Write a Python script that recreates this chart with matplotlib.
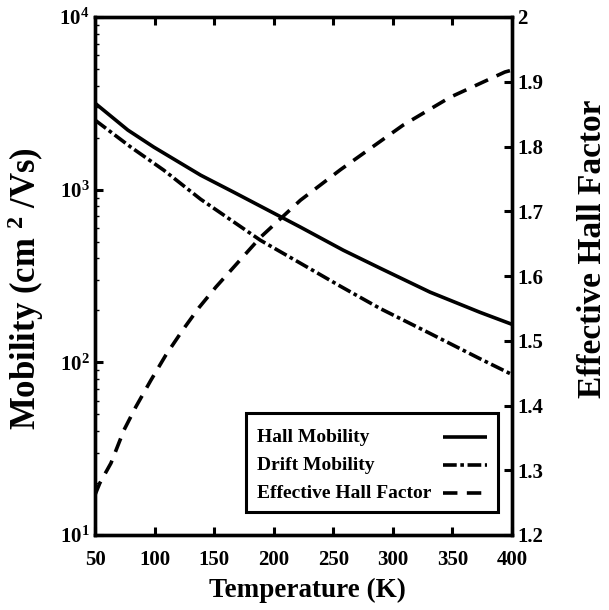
import matplotlib
matplotlib.use("Agg")
import matplotlib.pyplot as plt
from matplotlib.lines import Line2D
from matplotlib.patches import Rectangle
from matplotlib.ticker import FixedLocator, LogLocator, NullFormatter, NullLocator

plt.rcParams['font.family'] = ['Liberation Serif', 'DejaVu Serif']
plt.rcParams['font.weight'] = 'bold'
plt.rcParams['mathtext.fontset'] = 'custom'
plt.rcParams['mathtext.rm'] = 'Liberation Serif:bold'
plt.rcParams['mathtext.it'] = 'Liberation Serif:bold'
plt.rcParams['mathtext.bf'] = 'Liberation Serif:bold'

# Hall mobility (cm^2/Vs) vs temperature
hall_T = [50, 77.6, 99.4, 138.7, 166.3, 222.4, 258.4, 289.3, 331.2, 373, 400]
hall_mu = [3170, 2213, 1763, 1213, 968, 607, 446, 351, 255, 195, 166]

# Drift mobility (cm^2/Vs) vs temperature
drift_T = [50, 80.1, 107.7, 138.7, 188.9, 222.4, 255.9, 289.3, 331.2, 373, 400]
drift_mu = [2530, 1763, 1297, 880, 509, 375, 276, 205, 147, 105, 85]

# Effective Hall factor vs temperature
hf_T = [50, 54, 63.4, 74.3, 84.3, 96.9, 109.5, 123.8, 137.2, 151.5, 189,
        222.4, 255.9, 308.6, 348, 394, 400]
hf = [1.262, 1.280, 1.311, 1.362, 1.398, 1.439, 1.478, 1.517, 1.551, 1.583,
      1.660, 1.717, 1.764, 1.833, 1.876, 1.915, 1.918]

series_labels = ['Hall Mobility', 'Drift Mobility', 'Effective Hall Factor']

x_ticks = [50, 100, 150, 200, 250, 300, 350, 400]
y_left_ticks = [10, 100, 1000, 10000]
y_left_labels = [r'$10^{1}$', r'$10^{2}$', r'$10^{3}$', r'$10^{4}$']
y_right_ticks = [1.2, 1.3, 1.4, 1.5, 1.6, 1.7, 1.8, 1.9, 2.0]
y_right_labels = ['1.2', '1.3', '1.4', '1.5', '1.6', '1.7', '1.8', '1.9', '2']

W, H = 609, 610
fig = plt.figure(figsize=(W / 100, H / 100), dpi=100)
L, R, T, B = 95, 512, 17, 535
ax = fig.add_axes([L / W, 1 - B / H, (R - L) / W, (B - T) / H])
ax2 = ax.twinx()

lw = 2.6
styles = [
    dict(linestyle='-', solid_capstyle='butt'),
    dict(linestyle=(0, (3.8, 1.0, 1.0, 1.0)), dash_capstyle='butt'),
    dict(linestyle=(0, (4.0, 2.6)), dash_capstyle='butt'),
]
ax.plot(hall_T, hall_mu, color='black', lw=lw, **styles[0])
ax.plot(drift_T, drift_mu, color='black', lw=lw, **styles[1])
ax2.plot(hf_T, hf, color='black', lw=lw, **styles[2])

ax.set_yscale('log')
ax.set_xlim(50, 400)
ax.set_ylim(10, 10000)
ax2.set_ylim(1.2, 2.0)

tick_fs = 15
ax.xaxis.set_major_locator(FixedLocator(x_ticks))
ax.set_xticklabels([str(v) for v in x_ticks], fontsize=tick_fs)
ax.yaxis.set_major_locator(FixedLocator(y_left_ticks))
ax.set_yticklabels(y_left_labels, fontsize=tick_fs)
ax.yaxis.set_minor_locator(LogLocator(base=10, subs=range(2, 10)))
ax.yaxis.set_minor_formatter(NullFormatter())
ax.xaxis.set_minor_locator(NullLocator())

ax2.yaxis.set_major_locator(FixedLocator(y_right_ticks))
ax2.set_yticklabels(y_right_labels, fontsize=tick_fs)

ax.tick_params(axis='x', which='major', direction='in', length=6, width=2.2,
               top=True, pad=11)
ax.tick_params(axis='y', which='major', direction='in', length=6, width=2.2,
               right=False, pad=4)
ax.tick_params(axis='y', which='minor', direction='in', length=3, width=1,
               right=False)
ax2.tick_params(axis='y', which='major', direction='in', length=6, width=2.2,
                pad=4)

for a in (ax, ax2):
    for s in a.spines.values():
        s.set_linewidth(2.4)

ax.set_xlabel('Temperature (K)', fontsize=19.5, fontweight='bold')
ax.xaxis.set_label_coords(0.51, -0.083)
ax.set_ylabel(r'Mobility (cm $^{2}$ /Vs)', fontsize=25, fontweight='bold')
ax.yaxis.set_label_coords(-0.117, 0.475)
ax2.set_ylabel('Effective Hall Factor', fontsize=24, fontweight='bold',
               rotation=90)
ax2.yaxis.set_label_coords(1.157, 0.553)

# Legend box: labels left-aligned, line samples right-aligned
tr = ax2.transAxes
ax2.add_patch(Rectangle((0.362, 0.0444), 0.604, 0.191, transform=tr,
                        facecolor='white', edgecolor='black', lw=2.2,
                        zorder=5, clip_on=False))
row_y = [0.189, 0.135, 0.081]
for lab, yy, st in zip(series_labels, row_y, styles):
    ax2.text(0.3885, yy, lab, transform=tr, fontsize=14, fontweight='bold',
             ha='left', va='center', zorder=6)
    ax2.add_line(Line2D([0.8345, 0.940], [yy, yy], transform=tr,
                        color='black', lw=lw, zorder=6, **st))

fig.savefig('out.png', dpi=100)
